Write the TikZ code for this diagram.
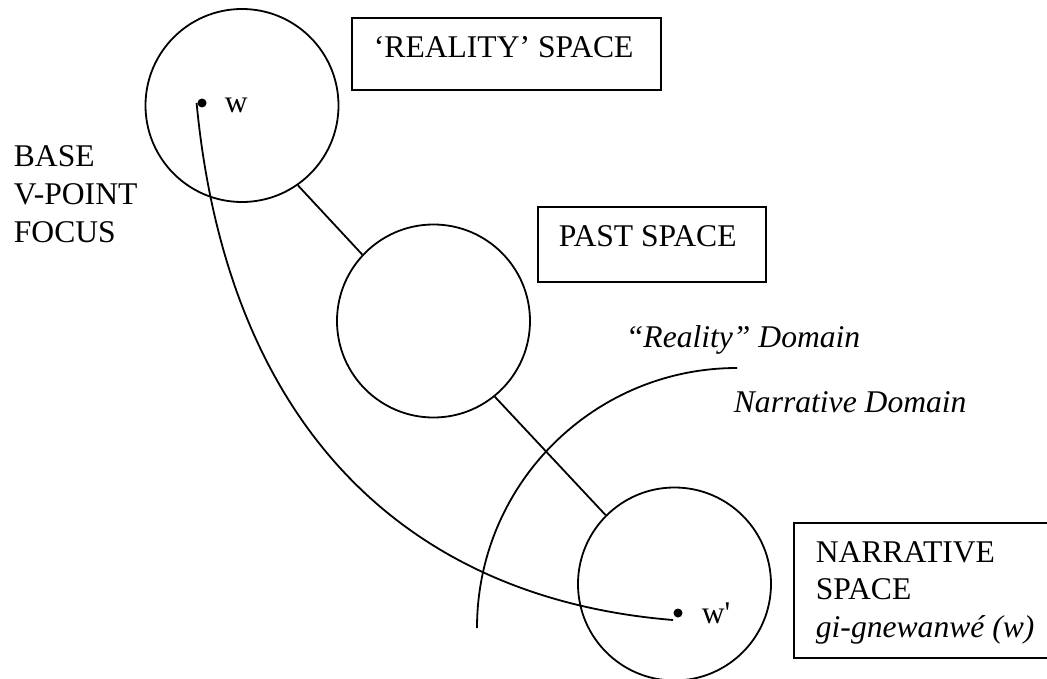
\documentclass[tikz,border=0pt]{standalone}
\usepackage{fontspec}
\setmainfont{Liberation Serif}
\begin{document}
\begin{tikzpicture}[x=1pt, y=1pt, line width=1.8pt,
  space/.style={circle, draw, minimum size=193pt, inner sep=0pt},
  txt/.style={anchor=base west, inner sep=0pt, font=\fontsize{31.6}{37.5}\selectfont},
  itxt/.style={txt, font=\fontsize{31.6}{37.5}\selectfont\itshape},
  spot/.style={circle, fill, minimum size=9pt, inner sep=0pt},
  framebox/.style={draw, anchor=north west, inner sep=0pt}]
\useasboundingbox (0,0) rectangle (1047,-679);

% mental spaces
\node[space] (reality) at (242,-105.5) {};
\node[space] (past) at (433.5,-321) {};
\node[space] (narr) at (674.5,-584) {};

% links between spaces
\draw (reality.-55) -- (past.137.5);
\draw (past.-51) -- (narr.135);

% space labels
\node[framebox, minimum width=309pt, minimum height=72pt] (realitybox) at (351,-17) {};
\node[txt] (realitytxt) at (373,-58) {‘REALITY’ SPACE};
\node[framebox, minimum width=228pt, minimum height=75pt] (pastbox) at (537,-206) {};
\node[txt] (pasttxt) at (558,-247) {PAST SPACE};
\node[framebox, minimum width=257pt, minimum height=135pt] (narrbox) at (793,-522) {};
\node[txt] (narrtxt1) at (815,-562) {NARRATIVE};
\node[txt] (narrtxt2) at (815,-599.5) {SPACE};
\node[itxt] (narrtxt3) at (815,-637) {gi-gnewanwé (w)};

% base / viewpoint / focus
\node[txt] (base) at (13,-167) {BASE};
\node[txt] (vpoint) at (13,-205) {V-POINT};
\node[txt] (focus) at (13,-243) {FOCUS};

% domain boundary
\draw (477,-628) arc[start angle=180, end angle=90, radius=260];
\node[itxt] (realdom) at (625,-347) {“Reality” Domain};
\node[itxt] (narrdom) at (733,-412) {Narrative Domain};

% the world w and its counterpart w'
\node[spot] (w) at (202,-103) {};
\node[txt] (wlabel) at (224,-113) {w};
\node[spot] (wp) at (678,-613) {};
\node[txt] (wplabel) at (701,-623) {w\textquotesingle};
\coordinate (wend) at (673,-620);
\draw (w.west) .. controls (227,-423) and (403,-598) .. (wend);
\end{tikzpicture}
\end{document}
